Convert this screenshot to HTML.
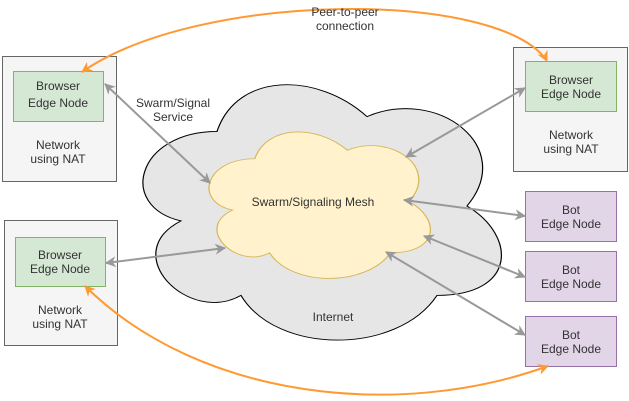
<!DOCTYPE html>
<html><head><meta charset="utf-8"><style>
html,body{margin:0;padding:0;background:#fff;}
svg{display:block;font-family:"Liberation Sans",Arial,sans-serif;font-size:12px;}
</style></head><body>
<svg width="629" height="401" viewBox="0 0 629 401" xmlns="http://www.w3.org/2000/svg">
<defs>
<marker id="g2" viewBox="0 0 10 10" refX="9" refY="5" markerWidth="11" markerHeight="11" orient="auto-start-reverse" markerUnits="userSpaceOnUse"><path d="M0,0 L10,5 L0,10 L3,5 Z" fill="#999"/></marker>
<marker id="o2" viewBox="0 0 10 10" refX="9" refY="5" markerWidth="11" markerHeight="11" orient="auto" markerUnits="userSpaceOnUse"><path d="M0,0 L10,5 L0,10 L3,5 Z" fill="#FF9933"/></marker>
</defs>
<rect x="2.5" y="56.5" width="114" height="125" fill="#f5f5f5" stroke="#666"/>
<rect x="513.5" y="47.5" width="114" height="124" fill="#f5f5f5" stroke="#666"/>
<rect x="4.5" y="220.5" width="113" height="125" fill="#f5f5f5" stroke="#666"/>
<rect x="13.5" y="71.5" width="90" height="50" fill="#d5e8d4" stroke="#82b366"/>
<rect x="525.5" y="61.5" width="91" height="50" fill="#d5e8d4" stroke="#82b366"/>
<rect x="15.5" y="237.5" width="90" height="49" fill="#d5e8d4" stroke="#82b366"/>
<rect x="525.5" y="191.5" width="91" height="50" fill="#e1d5e7" stroke="#9673a6"/>
<rect x="525.5" y="251.5" width="91" height="50" fill="#e1d5e7" stroke="#9673a6"/>
<rect x="525.5" y="316.5" width="91" height="50" fill="#e1d5e7" stroke="#9673a6"/>
<g transform="translate(117,57) scale(400,298)">
<path d="M0.25,0.25 C0.05,0.25 0,0.5 0.16,0.55 C0,0.66 0.18,0.9 0.31,0.8 C0.4,1 0.7,1 0.8,0.8 C1,0.8 1,0.6 0.875,0.5 C1,0.3 0.8,0.1 0.625,0.2 C0.5,0.05 0.3,0.05 0.25,0.25 Z" fill="#e6e6e6" stroke="#000" stroke-width="0.003"/>
</g>
<g transform="translate(193,116) scale(247,171)">
<path d="M0.25,0.25 C0.05,0.25 0,0.5 0.16,0.55 C0,0.66 0.18,0.9 0.31,0.8 C0.4,1 0.7,1 0.8,0.8 C1,0.8 1,0.6 0.875,0.5 C1,0.3 0.8,0.1 0.625,0.2 C0.5,0.05 0.3,0.05 0.25,0.25 Z" fill="#fff2cc" stroke="#d6b656" stroke-width="0.005"/>
</g>
<g stroke="#999" stroke-width="2" fill="none" marker-start="url(#g2)" marker-end="url(#g2)">
<line x1="105" y1="84" x2="210" y2="183"/>
<line x1="525" y1="88" x2="406" y2="157"/>
<line x1="106" y1="263" x2="225" y2="248"/>
<line x1="525" y1="216" x2="404" y2="200"/>
<line x1="525" y1="277" x2="424" y2="236"/>
<line x1="525" y1="335" x2="386" y2="252"/>
</g>
<path d="M547,61 C500,-10 200,-10 82,72" stroke="#FF9933" stroke-width="2" fill="none" marker-end="url(#o2)"/>
<path d="M540,50 Q544,55 547,61" stroke="none" fill="none" marker-end="url(#o2)"/>
<path d="M85,286 C200,400 400,420 548,366" stroke="#FF9933" stroke-width="2" fill="none" marker-end="url(#o2)"/>
<path d="M100,300 Q92,293 85,286" stroke="none" fill="none" marker-end="url(#o2)"/>
<g fill="#333" text-anchor="middle">
<text x="58" y="90">Browser</text><text x="58" y="107">Edge Node</text>
<text x="571" y="84">Browser</text><text x="571" y="98">Edge Node</text>
<text x="60" y="259">Browser</text><text x="60" y="273">Edge Node</text>
<text x="58" y="149">Network</text><text x="58" y="163">using NAT</text>
<text x="571" y="139">Network</text><text x="571" y="153">using NAT</text>
<text x="60" y="314">Network</text><text x="60" y="328">using NAT</text>
<text x="571" y="214">Bot</text><text x="571" y="228">Edge Node</text>
<text x="571" y="274">Bot</text><text x="571" y="288">Edge Node</text>
<text x="571" y="339">Bot</text><text x="571" y="353">Edge Node</text>
<text x="173" y="107">Swarm/Signal</text><text x="173" y="121">Service</text>
<text x="313" y="206">Swarm/Signaling Mesh</text>
<text x="333" y="321">Internet</text>
<text x="345" y="16">Peer-to-peer</text><text x="345" y="30">connection</text>
</g>
</svg>
</body></html>
